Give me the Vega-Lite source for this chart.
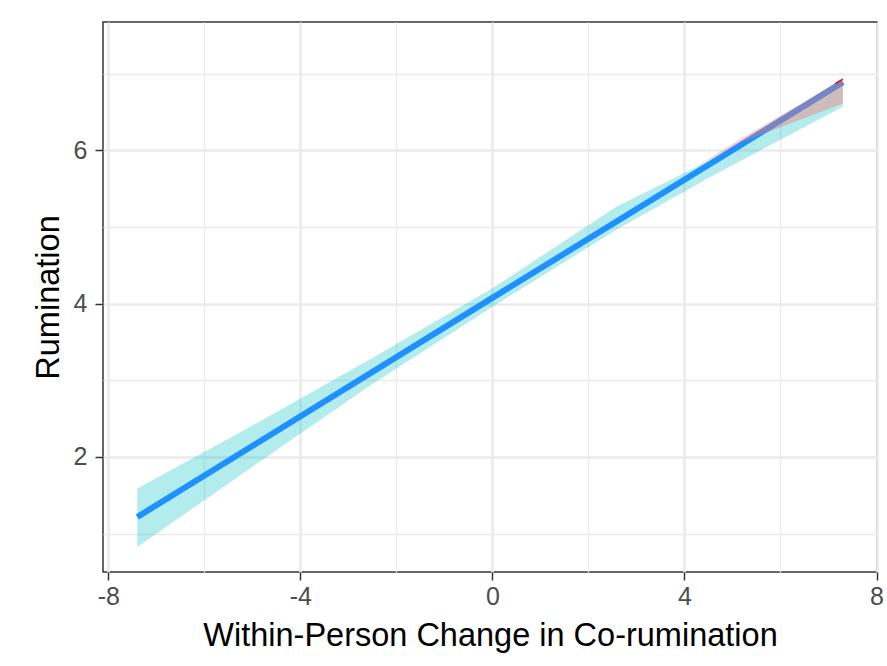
{
  "$schema": "https://vega.github.io/schema/vega-lite/v6.json",
  "width": 774,
  "height": 550,
  "autosize": {"type": "none"},
  "padding": {"left": 103, "top": 22, "right": 10, "bottom": 94},
  "background": "white",
  "config": {
    "font": "Liberation Sans",
    "view": {"stroke": "#333333", "strokeWidth": 1.5, "fill": "white"},
    "axis": {
      "domain": false,
      "gridColor": "#EBEBEB",
      "tickColor": "#333333",
      "tickWidth": 1.5,
      "tickSize": 8,
      "labelFont": "Liberation Sans",
      "labelFontSize": 25,
      "labelColor": "#4D4D4D",
      "labelFlush": false,
      "labelOverlap": false,
      "labelBound": false,
      "titleFont": "Liberation Sans",
      "titleFontSize": 32.5,
      "titleFontWeight": "normal",
      "titleColor": "#000000"
    }
  },
  "datasets": {
    "band": [
      {"x": -7.396, "lower": 0.824, "upper": 1.587},
      {"x": -5.05, "lower": 1.85, "upper": 2.39},
      {"x": -2.5, "lower": 2.95, "upper": 3.29},
      {"x": 0, "lower": 3.96, "upper": 4.2},
      {"x": 2.6, "lower": 4.97, "upper": 5.27},
      {"x": 4.5, "lower": 5.64, "upper": 5.86},
      {"x": 7.3, "lower": 6.57, "upper": 6.93}
    ],
    "line": [
      {"x": -7.396, "y": 1.216},
      {"x": 0, "y": 4.075},
      {"x": 7.3, "y": 6.89}
    ],
    "redband": [
      {"x": 4.3, "lower": 5.8, "upper": 5.81},
      {"x": 5.15, "lower": 6.1, "upper": 6.14},
      {"x": 7.3, "lower": 6.61, "upper": 6.93}
    ],
    "redline": [
      {"x": 7.14, "y": 6.87},
      {"x": 7.3, "y": 6.93}
    ]
  },
  "layer": [
    {
      "data": {"name": "band"},
      "mark": {"type": "area", "color": "#00BFC4", "opacity": 0.3},
      "encoding": {
        "x": {
          "field": "x", "type": "quantitative",
          "scale": {"domain": [-8.11, 8.01], "nice": false, "zero": false},
          "axis": {"orient": "bottom", "values": [-6, -2, 2, 6], "grid": true, "gridWidth": 1.4, "ticks": false, "labels": false, "title": null}
        },
        "y": {
          "field": "lower", "type": "quantitative",
          "scale": {"domain": [0.498, 7.675], "nice": false, "zero": false},
          "axis": {"orient": "left", "values": [1, 3, 5, 7], "grid": true, "gridWidth": 1.4, "ticks": false, "labels": false, "title": null}
        },
        "y2": {"field": "upper"}
      }
    },
    {
      "data": {"name": "line"},
      "mark": {"type": "line", "color": "#1E90FF", "strokeWidth": 6},
      "encoding": {
        "x": {
          "field": "x", "type": "quantitative",
          "axis": {"orient": "bottom", "values": [-8, -4, 0, 4, 8], "grid": true, "gridWidth": 2.7, "labelPadding": 4, "labelExpr": "toString(datum.value)", "title": "Within-Person Change in Co-rumination", "titlePadding": 10}
        },
        "y": {
          "field": "y", "type": "quantitative",
          "axis": {"orient": "left", "values": [2, 4, 6], "grid": true, "gridWidth": 2.7, "labelPadding": 8, "labelExpr": "toString(datum.value)", "title": "Rumination", "titlePadding": 8}
        }
      }
    },
    {
      "data": {"name": "redband"},
      "mark": {"type": "area", "color": "#F8766D", "opacity": 0.4},
      "encoding": {
        "x": {"field": "x", "type": "quantitative", "axis": null},
        "y": {"field": "lower", "type": "quantitative", "axis": null},
        "y2": {"field": "upper"}
      }
    },
    {
      "data": {"name": "redline"},
      "mark": {"type": "line", "color": "#FF0000", "strokeWidth": 1.5},
      "encoding": {
        "x": {"field": "x", "type": "quantitative", "axis": null},
        "y": {"field": "y", "type": "quantitative", "axis": null}
      }
    }
  ],
  "resolve": {"axis": {"x": "independent", "y": "independent"}}
}
